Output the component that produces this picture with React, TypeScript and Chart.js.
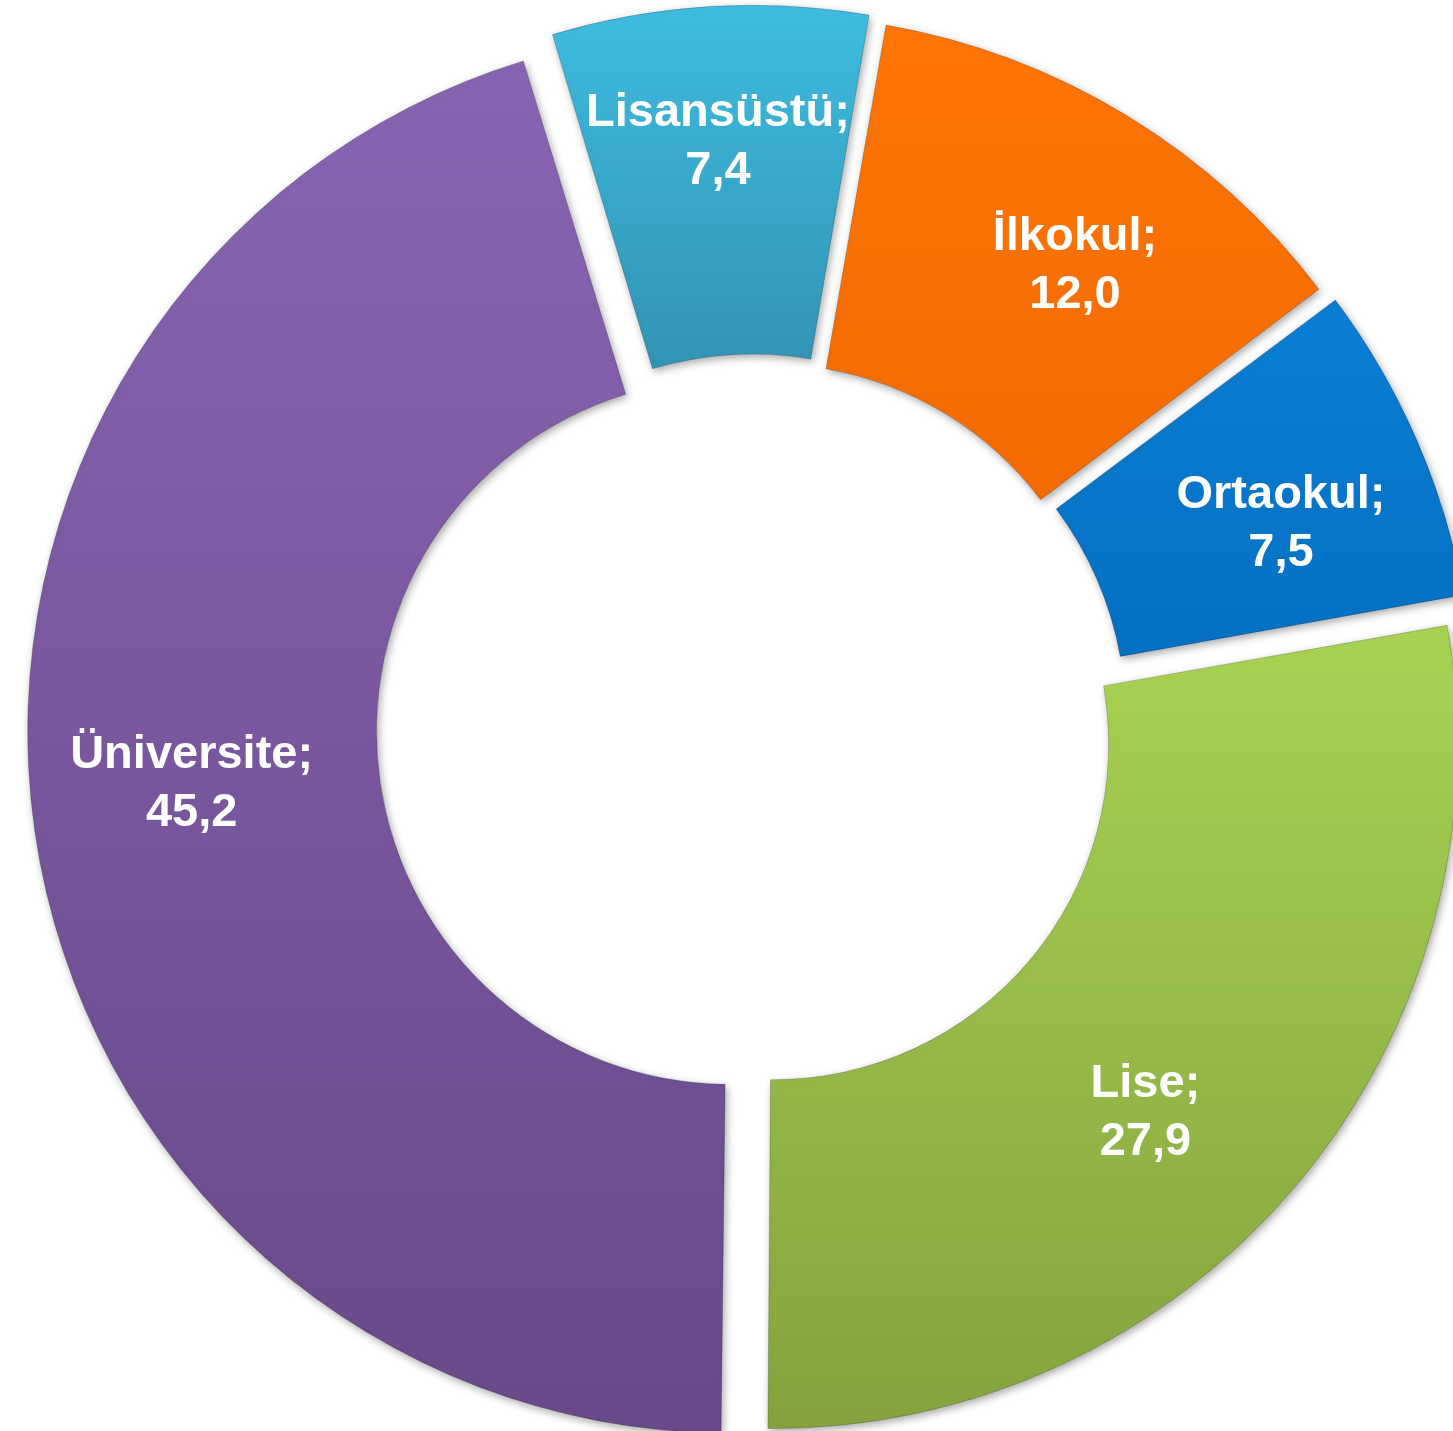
import React, { useEffect, useRef } from 'react';
import { Chart, registerables } from 'chart.js';

Chart.register(...registerables);

// ---- data ----
const categories = ['İlkokul', 'Ortaokul', 'Lise', 'Üniversite', 'Lisansüstü'];
const values = [12.0, 7.5, 27.9, 45.2, 7.4];

// ---- styles ----
const topColors = ['#FF7606', '#0B7ED4', '#A8D352', '#8865B3', '#3EBCE0'];
const bottomColors = ['#F26A00', '#0470C2', '#84A33F', '#684989', '#3294B4'];
// label placement nudges (angle in degrees, radial in px) relative to slice centre line
const labelAngleNudge = [3.4, 2.3, 4.3, 2.5, 0];
const labelRadialNudge = [-2, -5, -8, -9, 17];

const W = 1453;
const H = 1431;
const ROTATION = 9.8; // degrees
const RADIUS = 684;
const CUTOUT_RATIO = 0.49;
const OFFSET = 100;

function sectorYRange(chart: any, i: number) {
  const area = chart.chartArea;
  const cy = (area.top + area.bottom) / 2;
  const total = values.reduce((a, b) => a + b, 0);
  let cum = 0;
  for (let k = 0; k < i; k++) cum += values[k];
  const a0 = -Math.PI / 2 + (ROTATION * Math.PI) / 180 + (cum / total) * Math.PI * 2;
  const circ = (values[i] / total) * Math.PI * 2;
  const a1 = a0 + circ;
  const tau = OFFSET / 4;
  const fix = 1 - Math.sin(Math.min(Math.PI, circ));
  const ro = RADIUS + tau * fix;
  const ri = RADIUS * CUTOUT_RATIO + tau * fix;
  const ys = [
    cy + Math.sin(a0) * ro,
    cy + Math.sin(a1) * ro,
    cy + Math.sin(a0) * ri,
    cy + Math.sin(a1) * ri,
  ];
  for (const ext of [-Math.PI / 2, Math.PI / 2, (3 * Math.PI) / 2, (5 * Math.PI) / 2]) {
    if (ext >= a0 && ext <= a1) ys.push(cy + Math.sin(ext) * ro);
  }
  return { y0: Math.min(...ys), y1: Math.max(...ys) };
}

const shadowPlugin = {
  id: 'sliceShadow',
  beforeDatasetsDraw(chart: any) {
    const ctx = chart.ctx;
    ctx.save();
    ctx.shadowColor = 'rgba(0,0,0,0.35)';
    ctx.shadowBlur = 8;
    ctx.shadowOffsetX = 2;
    ctx.shadowOffsetY = 3;
  },
  afterDatasetsDraw(chart: any) {
    chart.ctx.restore();
  },
};

const labelPlugin = {
  id: 'sliceLabels',
  afterDraw(chart: any) {
    const ctx = chart.ctx;
    const meta = chart.getDatasetMeta(0);
    ctx.save();
    ctx.fillStyle = '#FFFFFF';
    ctx.font = 'bold 47px "Liberation Sans", Arial, Helvetica, sans-serif';
    ctx.textAlign = 'center';
    ctx.textBaseline = 'middle';
    meta.data.forEach((arc: any, i: number) => {
      const p = arc.getProps(['x', 'y', 'startAngle', 'endAngle', 'innerRadius', 'outerRadius'], true);
      const mid = (p.startAngle + p.endAngle) / 2 + (labelAngleNudge[i] * Math.PI) / 180;
      const circ = p.endAngle - p.startAngle;
      const tau = OFFSET / 4;
      const fix = 1 - Math.sin(Math.min(Math.PI, circ));
      const r = (p.innerRadius + p.outerRadius) / 2 + tau + tau * fix + 22 + labelRadialNudge[i];
      const px = p.x + Math.cos(mid) * r;
      const py = p.y + Math.sin(mid) * r;
      ctx.fillText(categories[i] + ';', px, py - 29);
      ctx.fillText(values[i].toFixed(1).replace('.', ','), px, py + 29);
    });
    ctx.restore();
  },
};

export default function App() {
  const ref = useRef<HTMLCanvasElement | null>(null);

  useEffect(() => {
    document.body.style.margin = '0';
    const canvas = ref.current;
    if (!canvas) return;
    const chart = new Chart(canvas, {
      type: 'doughnut',
      data: {
        labels: categories,
        datasets: [
          {
            data: values,
            backgroundColor: (c: any) => {
              const i = c.dataIndex ?? 0;
              const chart = c.chart;
              if (!chart.chartArea) return topColors[i];
              const { y0, y1 } = sectorYRange(chart, i);
              const g = chart.ctx.createLinearGradient(0, y0, 0, y1);
              g.addColorStop(0, topColors[i]);
              g.addColorStop(1, bottomColors[i]);
              return g;
            },
            borderColor: 'rgba(0,0,0,0.18)',
            borderWidth: 1,
            offset: OFFSET,
            hoverOffset: OFFSET,
          },
        ],
      },
      options: {
        responsive: false,
        animation: false,
        rotation: ROTATION,
        radius: RADIUS,
        cutout: `${CUTOUT_RATIO * 100}%`,
        layout: { padding: { left: 55, top: 25, right: 0, bottom: 0 } },
        plugins: {
          legend: { display: false },
          tooltip: { enabled: false },
        },
        events: [],
      } as any,
      plugins: [shadowPlugin, labelPlugin],
    });
    return () => chart.destroy();
  }, []);

  return (
    <div style={{ position: 'absolute', left: 0, top: 0, width: W, height: H, background: '#FFFFFF' }}>
      <canvas ref={ref} width={W} height={H} style={{ width: W, height: H, display: 'block' }} />
    </div>
  );
}
